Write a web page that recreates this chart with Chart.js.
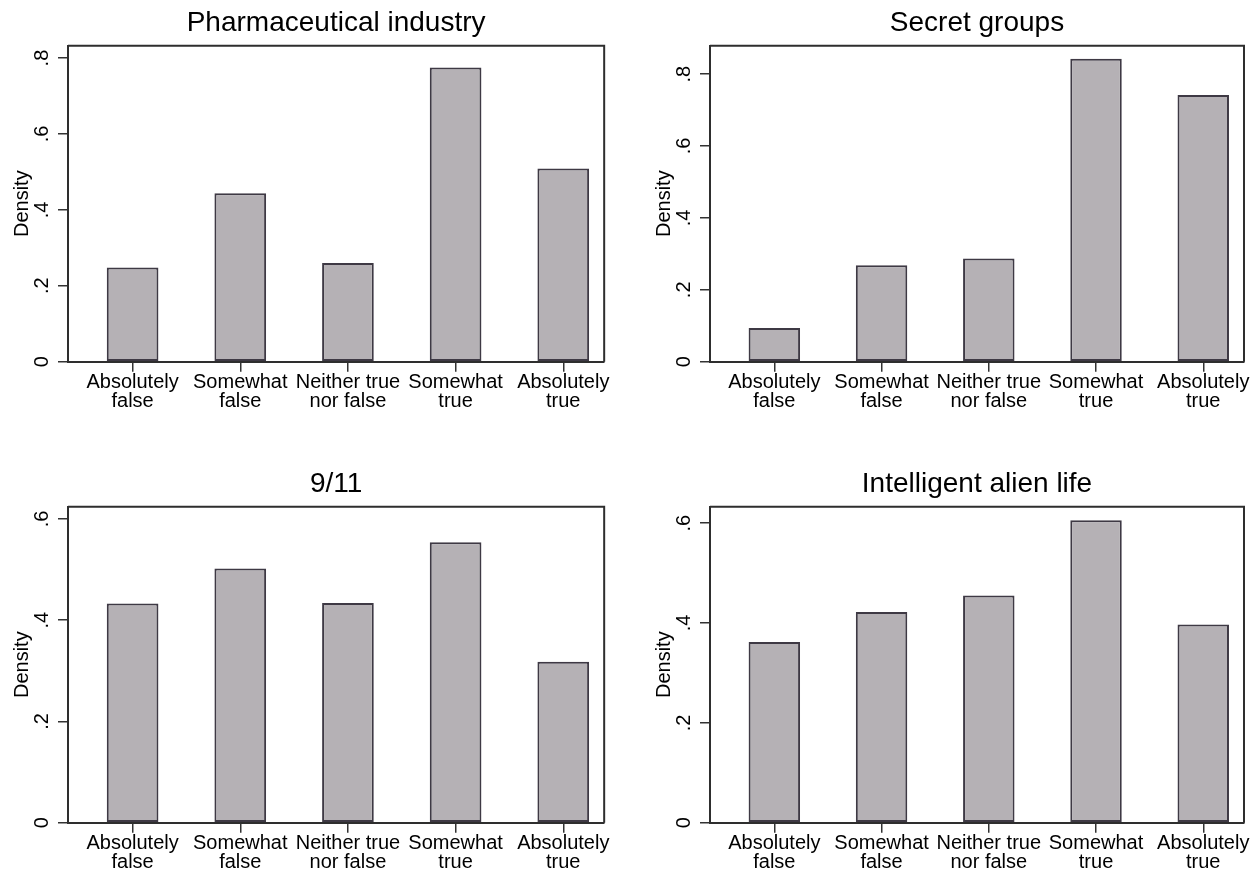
<!DOCTYPE html>
<html>
<head>
<meta charset="utf-8">
<script src="https://cdn.jsdelivr.net/npm/chart.js@4.4.0/dist/chart.umd.min.js"></script>
<style>
  html, body { margin: 0; padding: 0; background: #fff; }
  body { width: 1252px; height: 872px; position: relative; overflow: hidden; }
  canvas { position: absolute; }
</style>
</head>
<body>
<canvas id="pharma" width="612" height="461" style="left:0;top:0"></canvas>
<canvas id="secret" width="610" height="461" style="left:642px;top:0"></canvas>
<canvas id="nine" width="612" height="411" style="left:0;top:461px"></canvas>
<canvas id="alien" width="610" height="411" style="left:642px;top:461px"></canvas>
<script>
// answer categories (coded 1..5 on the x axis)
const categories = [
    ["Absolutely", "false"],
    ["Somewhat", "false"],
    ["Neither true", "nor false"],
    ["Somewhat", "true"],
    ["Absolutely", "true"]
];
const codes = [1, 2, 3, 4, 5];

const titles = ["Pharmaceutical industry", "Secret groups", "9/11", "Intelligent alien life"];

// densities
const pharmaceutical = [0.248, 0.444, 0.260, 0.775, 0.509];
const secretGroups = [0.094, 0.268, 0.287, 0.843, 0.742];
const nineEleven = [0.433, 0.502, 0.434, 0.554, 0.318];
const alienLife = [0.362, 0.422, 0.455, 0.606, 0.397];

const yTicksTop = [0, 0.2, 0.4, 0.6, 0.8];
const yTicksBottom = [0, 0.2, 0.4, 0.6];
const yMax = [0.8325, 0.879, 0.624, 0.633];
const xMin = 0.4, xMax = 5.38;

const FONT = "'Liberation Sans', Arial, Helvetica, sans-serif";
const INK = "#2e2e2e";
const PLOT_LEFT = 68, PLOT_TOP = 45.7, PLOT_BOTTOM = 361.7;

// outline the plot region (top and right sides, the axes draw the rest)
const framePlugin = {
    id: "frame",
    afterDatasetsDraw(chart) {
        const { ctx, chartArea: a } = chart;
        ctx.save();
        ctx.strokeStyle = INK;
        ctx.lineWidth = 2;
        ctx.beginPath();
        ctx.moveTo(a.left, a.top);
        ctx.lineTo(a.right, a.top);
        ctx.lineTo(a.right, a.bottom);
        ctx.stroke();
        ctx.restore();
    }
};

function fmtY(v) {
    return v === 0 ? "0" : String(+v.toFixed(1)).replace(/^0/, "");
}

function tickGrid() {
    return {
        display: true,
        offset: false,
        drawOnChartArea: false,
        drawTicks: true,
        tickLength: 10,
        color: "#333",
        lineWidth: 1.5,
        tickColor: "#333",
        tickWidth: 1.5
    };
}

function drawPanel(id, title, values, yTicks, top, padRight) {
    const canvas = document.getElementById(id);
    const xAxisHeight = canvas.height - PLOT_BOTTOM;

    new Chart(canvas, {
        type: "bar",
        data: {
            datasets: [{
                data: codes.map((c, i) => ({ x: c, y: values[i] })),
                backgroundColor: "#b5b1b5",
                borderColor: "#3e3944",
                borderWidth: 2,
                borderSkipped: false,
                barPercentage: 0.48,
                categoryPercentage: 1
            }]
        },
        options: {
            responsive: false,
            animation: false,
            layout: { padding: { top: 0, right: padRight, bottom: 0, left: 0 } },
            plugins: {
                legend: { display: false },
                tooltip: { enabled: false },
                title: {
                    display: true,
                    text: title,
                    fullSize: false,
                    color: "#000",
                    font: { family: FONT, size: 28, weight: "normal", lineHeight: 1.2 },
                    padding: { top: 6.8, bottom: PLOT_TOP - 6.8 - 33.6 }
                }
            },
            scales: {
                x: {
                    type: "linear",
                    min: xMin,
                    max: xMax,
                    offset: false,
                    afterFit: scale => { scale.height = xAxisHeight; },
                    afterBuildTicks: axis => { axis.ticks = codes.map(v => ({ value: v })); },
                    grid: tickGrid(),
                    border: { display: true, color: INK, width: 2 },
                    ticks: {
                        autoSkip: false,
                        maxRotation: 0,
                        minRotation: 0,
                        padding: 2,
                        color: "#000",
                        font: { family: FONT, size: 20, lineHeight: 0.925 },
                        callback: v => categories[codes.indexOf(v)] || ""
                    }
                },
                y: {
                    min: 0,
                    max: top,
                    afterFit: scale => { scale.width = PLOT_LEFT; },
                    afterBuildTicks: axis => { axis.ticks = yTicks.map(v => ({ value: v })); },
                    grid: tickGrid(),
                    border: { display: true, color: INK, width: 2 },
                    title: {
                        display: true,
                        text: "Density",
                        color: "#000",
                        font: { family: FONT, size: 20, lineHeight: 1.2 },
                        padding: { top: 10, bottom: 0 }
                    },
                    ticks: {
                        autoSkip: false,
                        minRotation: 90,
                        maxRotation: 90,
                        crossAlign: "center",
                        padding: 7,
                        color: "#000",
                        font: { family: FONT, size: 20 },
                        callback: v => fmtY(v)
                    }
                }
            }
        },
        plugins: [framePlugin]
    });
}

drawPanel("pharma", titles[0], pharmaceutical, yTicksTop, yMax[0], 5);
drawPanel("secret", titles[1], secretGroups, yTicksTop, yMax[1], 6);
drawPanel("nine", titles[2], nineEleven, yTicksBottom, yMax[2], 5);
drawPanel("alien", titles[3], alienLife, yTicksBottom, yMax[3], 6);
</script>
</body>
</html>
